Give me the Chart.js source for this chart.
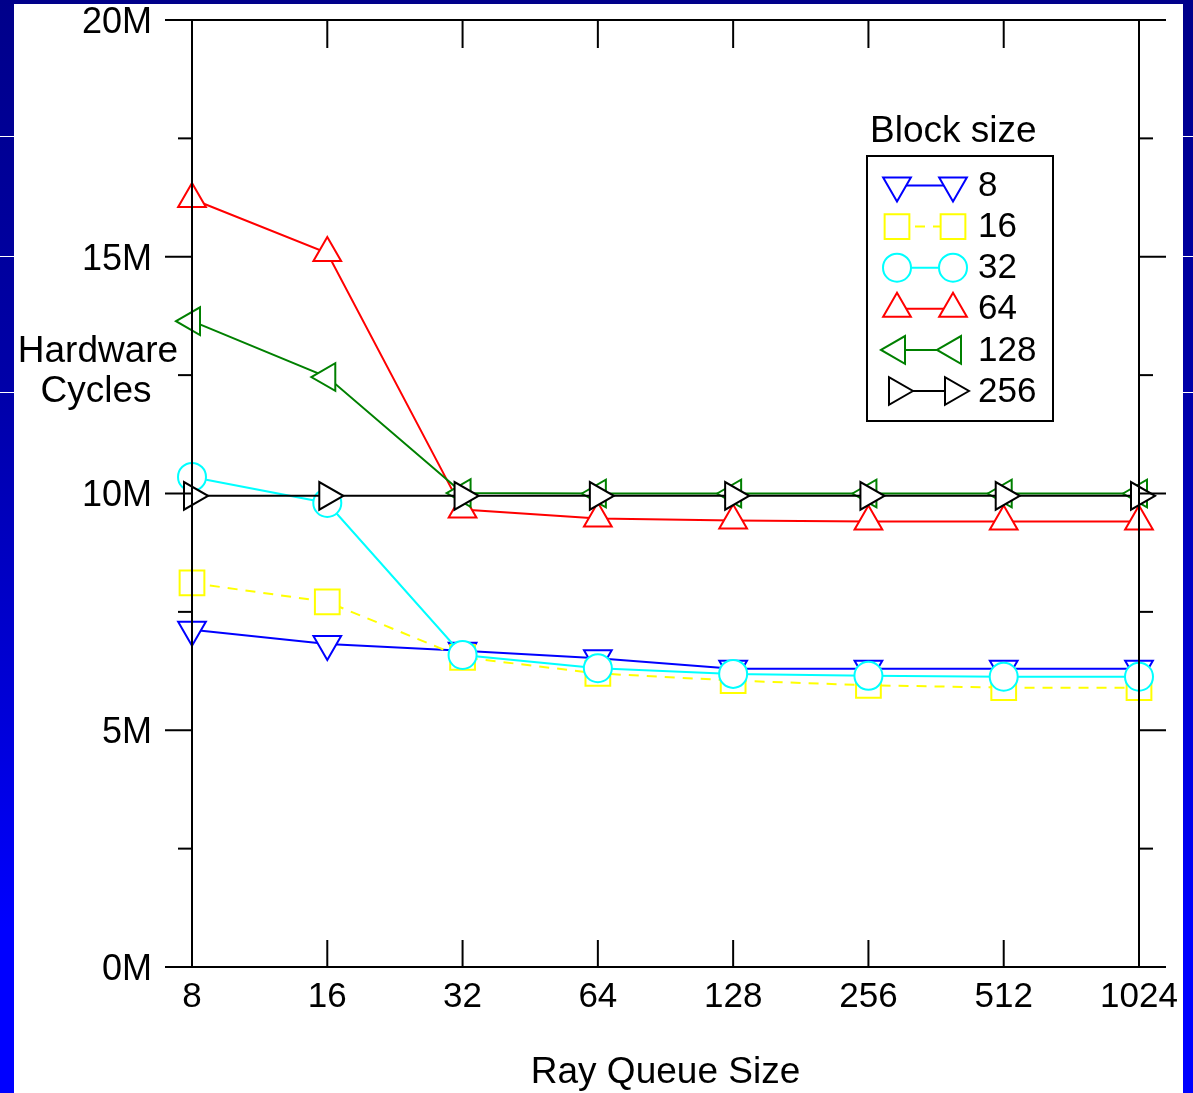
<!DOCTYPE html>
<html><head><meta charset="utf-8">
<script src="https://cdn.jsdelivr.net/npm/chart.js@4.4.1/dist/chart.umd.min.js"></script>
<style>
html,body{margin:0;padding:0;width:1193px;height:1093px;overflow:hidden;
background:linear-gradient(to bottom,#00008a 0%,#0000a8 35%,#0000d8 65%,#0000ff 85%,#0000ff 100%);}
#panel{position:absolute;left:14px;top:4px;width:1169px;height:1089px;background:#fff;}
.wl{position:absolute;height:1px;background:#fff;}
canvas{position:absolute;left:0;top:0;}
</style></head><body>
<div id="panel"></div>
<div class="wl" style="left:0;width:14px;top:136px"></div>
<div class="wl" style="left:0;width:14px;top:256px"></div>
<div class="wl" style="left:0;width:14px;top:392px"></div>
<div class="wl" style="left:1183px;width:10px;top:136px"></div>
<div class="wl" style="left:1183px;width:10px;top:256px"></div>
<div class="wl" style="left:1183px;width:10px;top:392px"></div>
<canvas id="c" width="1193" height="1093"></canvas>
<script>
// ---- data ----
const categories = ['8','16','32','64','128','256','512','1024'];
const blockSizes = ['8','16','32','64','128','256'];
const cycles8   = [7.12e6, 6.82e6, 6.68e6, 6.52e6, 6.30e6, 6.30e6, 6.30e6, 6.30e6];
const cycles16  = [8.11e6, 7.71e6, 6.54e6, 6.20e6, 6.05e6, 5.95e6, 5.90e6, 5.90e6];
const cycles32  = [10.35e6, 9.80e6, 6.59e6, 6.31e6, 6.19e6, 6.15e6, 6.13e6, 6.13e6];
const cycles64  = [16.22e6, 15.08e6, 9.66e6, 9.47e6, 9.43e6, 9.41e6, 9.41e6, 9.41e6];
const cycles128 = [13.64e6, 12.46e6, 10.01e6, 10.0e6, 10.0e6, 10.0e6, 10.0e6, 10.0e6];
const cycles256 = [9.95e6, 9.95e6, 9.95e6, 9.95e6, 9.95e6, 9.95e6, 9.95e6, 9.95e6];
const yTickValues = [0, 5e6, 10e6, 15e6, 20e6];
const seriesValues = [cycles8, cycles16, cycles32, cycles64, cycles128, cycles256];

// ---- styles ----
const colors = ['#0000ff', '#ffff00', '#00ffff', '#ff0000', '#008000', '#000000'];
const pStyles = ['triangle', 'rect', 'circle', 'triangle', 'triangle', 'triangle'];
const pRot = [180, 0, 0, 0, 270, 90];
const pRad = [16, 17.5, 14, 16, 16, 16];
const dashes = [[], [10, 8], [], [], [], []];
const FONT = '"Liberation Sans", Arial, sans-serif';

function drawMarker(ctx, style, rot, r, x, y, color) {
  ctx.save();
  ctx.beginPath();
  ctx.setLineDash([]);
  if (style === 'circle') {
    ctx.arc(x, y, r, 0, Math.PI * 2);
  } else if (style === 'rect') {
    const s = r * Math.SQRT1_2;
    ctx.rect(x - s, y - s, 2 * s, 2 * s);
  } else {
    let a = rot * Math.PI / 180;
    ctx.moveTo(x + Math.sin(a) * r, y - Math.cos(a) * r);
    a += 2 * Math.PI / 3;
    ctx.lineTo(x + Math.sin(a) * r, y - Math.cos(a) * r);
    a += 2 * Math.PI / 3;
    ctx.lineTo(x + Math.sin(a) * r, y - Math.cos(a) * r);
    ctx.closePath();
  }
  ctx.fillStyle = '#fff';
  ctx.fill();
  ctx.lineWidth = 2;
  ctx.strokeStyle = color;
  ctx.stroke();
  ctx.restore();
}

const framePlugin = {
  id: 'frame',
  afterDatasetsDraw(chart) {
    const ctx = chart.ctx;
    const {left, right, top, bottom} = chart.chartArea;
    const ys = chart.scales.y, xs = chart.scales.x;
    ctx.save();
    ctx.strokeStyle = '#000';
    ctx.lineWidth = 2;
    ctx.setLineDash([]);
    const L = (x1, y1, x2, y2) => { ctx.beginPath(); ctx.moveTo(x1, y1); ctx.lineTo(x2, y2); ctx.stroke(); };
    L(left, top, left, bottom);
    L(right, top, right, bottom);
    const major = 27, minor = 14;
    yTickValues.forEach((v, i) => {
      const p = ys.getPixelForValue(v);
      L(left - major, p, left, p);
      L(right, p, right + major, p);
      if (i < yTickValues.length - 1) {
        const q = ys.getPixelForValue((v + yTickValues[i + 1]) / 2);
        L(left - minor, q, left, q);
        L(right, q, right + minor, q);
      }
    });
    L(left - major, top, right + major, top);
    L(left - major, bottom, right + major, bottom);
    categories.forEach((c, i) => {
      const p = xs.getPixelForValue(i);
      L(p, bottom, p, bottom - 27);
      L(p, top, p, top + 28);
    });
    ctx.restore();
  },
  afterDraw(chart) {
    const ctx = chart.ctx;
    ctx.save();
    ctx.fillStyle = '#000';
    ctx.font = '37px ' + FONT;
    ctx.textBaseline = 'alphabetic';
    // axis titles
    ctx.textAlign = 'center';
    ctx.fillText('Hardware', 98, 362);
    ctx.fillText('Cycles', 96, 402);
    const ca = chart.chartArea;
    ctx.fillText('Ray Queue Size', (ca.left + ca.right) / 2, 1083);
    // legend
    ctx.textAlign = 'left';
    ctx.fillText('Block size', 870, 142);
    ctx.strokeStyle = '#000';
    ctx.lineWidth = 2;
    ctx.strokeRect(867, 156, 186, 265);
    ctx.font = '35px ' + FONT;
    const x1 = 897, x2 = 953, tx = 978, y0 = 185.5, dy = 41.1;
    chart.data.datasets.forEach((ds, i) => {
      const y = y0 + dy * i;
      ctx.save();
      ctx.beginPath();
      ctx.setLineDash(ds.borderDash || []);
      ctx.strokeStyle = ds.borderColor;
      ctx.lineWidth = 2;
      ctx.moveTo(x1, y); ctx.lineTo(x2, y); ctx.stroke();
      ctx.restore();
      drawMarker(ctx, ds.pointStyle, ds.rotation, ds.pointRadius, x1, y, ds.borderColor);
      drawMarker(ctx, ds.pointStyle, ds.rotation, ds.pointRadius, x2, y, ds.borderColor);
      ctx.fillStyle = '#000';
      ctx.textBaseline = 'middle';
      ctx.fillText(ds.label, tx, y + 1);
    });
    ctx.restore();
  }
};

const datasets = blockSizes.map((b, i) => ({
  label: b,
  data: seriesValues[i],
  borderColor: colors[i],
  backgroundColor: '#ffffff',
  pointBackgroundColor: '#ffffff',
  pointBorderColor: colors[i],
  borderWidth: 2,
  pointBorderWidth: 2,
  borderDash: dashes[i],
  pointStyle: pStyles[i],
  rotation: pRot[i],
  pointRadius: pRad[i],
  pointHoverRadius: pRad[i],
  tension: 0,
  fill: false,
  clip: false,
  order: blockSizes.length - 1 - i
}));

new Chart(document.getElementById('c'), {
  type: 'line',
  data: { labels: categories, datasets },
  options: {
    responsive: false,
    animation: false,
    events: [],
    layout: { padding: { left: 0, right: 54, top: 20, bottom: 0 } },
    plugins: { legend: { display: false }, tooltip: { enabled: false } },
    scales: {
      x: {
        type: 'category',
        offset: false,
        grid: { display: false, drawTicks: false, tickLength: 0 },
        border: { display: false },
        ticks: { color: '#000', font: { size: 35, family: FONT }, padding: 9, autoSkip: false, maxRotation: 0, minRotation: 0 },
        afterFit: s => { s.height = 126; }
      },
      y: {
        min: 0, max: 20e6,
        grid: { display: false, drawTicks: false, tickLength: 0 },
        border: { display: false },
        afterBuildTicks: s => { s.ticks = yTickValues.map(v => ({ value: v })); },
        ticks: { color: '#000', font: { size: 36, family: FONT }, padding: 40, labelOffset: 3,
          callback: v => (v / 1e6) + 'M' },
        afterFit: s => { s.width = 192; s.paddingTop = 0; s.paddingBottom = 0; }
      }
    }
  },
  plugins: [framePlugin]
});
</script>
</body></html>
